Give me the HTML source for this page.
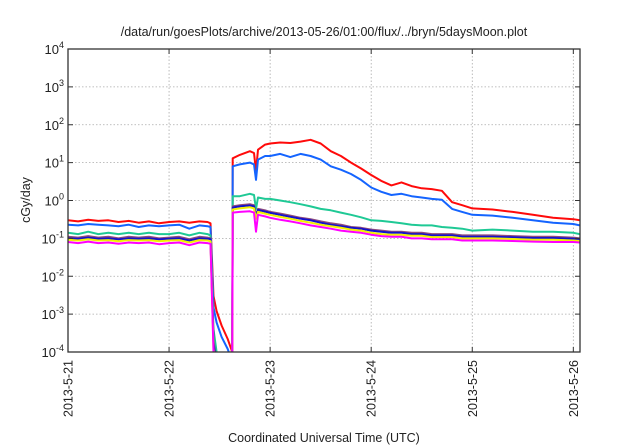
<!DOCTYPE html>
<html><head><meta charset="utf-8"><style>
body{margin:0;background:#fff;}
svg{display:block;font-family:"Liberation Sans",sans-serif;}
</style></head><body>
<svg id="chart" width="640" height="448" viewBox="0 0 640 448" xmlns="http://www.w3.org/2000/svg">
<defs><clipPath id="clip"><rect x="68" y="49" width="512" height="303"/></clipPath></defs>
<text x="324" y="36" font-size="12.5" text-anchor="middle" fill="#222">/data/run/goesPlots/archive/2013-05-26/01:00/flux/../bryn/5daysMoon.plot</text>
<g id="grid"></g>
<g id="series" clip-path="url(#clip)"></g>
<rect x="68" y="49" width="512" height="303" fill="none" stroke="#333" stroke-width="1.3"/>
<g id="axes"></g>
<text transform="translate(30,200) rotate(-90)" font-size="12.5" text-anchor="middle" fill="#222">cGy/day</text>
<text x="324" y="442" font-size="12.5" text-anchor="middle" fill="#222">Coordinated Universal Time (UTC)</text>
</svg>
<script>
const times=[0,0.1,0.2,0.3,0.4,0.5,0.6,0.7,0.8,0.9,1.0,1.1,1.2,1.3,1.38,1.41,1.44,1.47,1.52,1.58,1.62,1.625,1.63,1.7,1.8,1.84,1.86,1.88,1.95,2.0,2.1,2.2,2.3,2.4,2.5,2.6,2.7,2.8,2.9,3.0,3.1,3.2,3.3,3.4,3.5,3.6,3.7,3.8,3.9,4.0,4.2,4.4,4.6,4.8,5.0,5.066];
const redVals=[0.30,0.28,0.31,0.29,0.30,0.27,0.29,0.26,0.28,0.25,0.27,0.28,0.26,0.28,0.27,0.25,3e-3,1.2e-3,5e-4,2.2e-4,1.1e-4,3e-5,13,16,20,18,6,22,30,32,34,33,36,40,32,20,15,10,7,4.7,3.3,2.5,3.0,2.4,2.1,2.0,1.8,0.9,0.75,0.62,0.58,0.5,0.42,0.35,0.32,0.3];
const blueVals=[0.23,0.22,0.24,0.23,0.22,0.21,0.23,0.20,0.22,0.21,0.22,0.23,0.18,0.22,0.21,0.20,1.5e-3,6e-4,2.5e-4,1.2e-4,6e-5,2e-5,8,9,10,9,3.5,12,15,15,17,14,17,15,12,8,6.5,5,3.5,2.2,1.7,1.4,1.5,1.3,1.2,1.1,1.05,0.6,0.5,0.42,0.4,0.35,0.3,0.26,0.24,0.22];
const greenVals=[0.14,0.13,0.15,0.13,0.14,0.13,0.14,0.13,0.14,0.13,0.13,0.14,0.12,0.14,0.13,0.12,4e-4,1e-4,3e-5,1e-5,1e-5,1e-5,1.3,1.3,1.5,1.4,0.6,1.2,1.1,1.1,1.0,0.9,0.8,0.7,0.6,0.55,0.48,0.42,0.36,0.3,0.29,0.27,0.25,0.23,0.22,0.22,0.2,0.19,0.18,0.16,0.17,0.16,0.15,0.15,0.14,0.13];
const purpleVals=[0.11,0.105,0.115,0.105,0.11,0.10,0.11,0.105,0.11,0.10,0.105,0.11,0.095,0.11,0.105,0.10,2e-4,5e-5,1e-5,1e-5,1e-5,1e-5,0.7,0.75,0.8,0.75,0.4,0.6,0.55,0.5,0.45,0.4,0.35,0.32,0.28,0.25,0.23,0.2,0.19,0.17,0.16,0.15,0.15,0.14,0.14,0.13,0.13,0.13,0.12,0.12,0.12,0.115,0.11,0.11,0.105,0.1];
const darkBlueVals=[0.10,0.098,0.105,0.098,0.10,0.094,0.10,0.098,0.10,0.094,0.098,0.10,0.088,0.10,0.098,0.094,1.8e-4,4e-5,1e-5,1e-5,1e-5,1e-5,0.65,0.7,0.74,0.7,0.37,0.56,0.51,0.47,0.42,0.37,0.33,0.3,0.26,0.23,0.21,0.19,0.18,0.16,0.15,0.14,0.14,0.13,0.13,0.12,0.12,0.12,0.11,0.11,0.11,0.107,0.102,0.102,0.098,0.094];
const yellowVals=[0.092,0.088,0.095,0.088,0.09,0.084,0.09,0.088,0.09,0.084,0.088,0.09,0.078,0.09,0.088,0.084,1.2e-4,3e-5,1e-5,1e-5,1e-5,1e-5,0.58,0.62,0.66,0.62,0.33,0.5,0.45,0.42,0.37,0.33,0.29,0.26,0.23,0.21,0.19,0.17,0.16,0.14,0.13,0.125,0.125,0.117,0.117,0.108,0.108,0.108,0.1,0.1,0.1,0.096,0.092,0.092,0.088,0.085];
const magentaVals=[0.08,0.075,0.082,0.075,0.078,0.072,0.078,0.075,0.078,0.07,0.075,0.078,0.066,0.078,0.075,0.072,1e-4,2e-5,1e-5,1e-5,1e-5,1e-5,0.48,0.5,0.52,0.48,0.15,0.42,0.38,0.35,0.31,0.28,0.25,0.22,0.2,0.18,0.16,0.15,0.14,0.125,0.115,0.11,0.11,0.1,0.1,0.095,0.095,0.095,0.088,0.088,0.088,0.085,0.082,0.08,0.08,0.078];
const yTickExps=[4,3,2,1,0,-1,-2,-3,-4];
const xTickDays=[0,1,2,3,4,5];
const xTickLabels=["2013-5-21","2013-5-22","2013-5-23","2013-5-24","2013-5-25","2013-5-26"];
const seriesList=[
 {name:"red",vals:redVals,color:"#ff0a0a"},
 {name:"blue",vals:blueVals,color:"#1464ff"},
 {name:"green",vals:greenVals,color:"#1fc995"},
 {name:"purple",vals:purpleVals,color:"#8e4a7e"},
 {name:"dark-blue",vals:darkBlueVals,color:"#1212cc"},
 {name:"yellow",vals:yellowVals,color:"#f2f000"},
 {name:"magenta",vals:magentaVals,color:"#ff00ff"}];
const X0=68,X1=580,Y0=49,Y1=352,DAYSPAN=5.066;
function xs(d){return X0+d/DAYSPAN*(X1-X0);}
function ys(v){return Y0+(4-Math.log10(v))/8*(Y1-Y0);}
const NS="http://www.w3.org/2000/svg";
function mk(tag,attrs,parent){const e=document.createElementNS(NS,tag);for(const k in attrs)e.setAttribute(k,attrs[k]);parent.appendChild(e);return e;}
const grid=document.getElementById('grid'),axes=document.getElementById('axes'),ser=document.getElementById('series');
yTickExps.forEach(function(ex){
  const y=ys(Math.pow(10,ex));
  if(ex<4&&ex>-4){const g=mk('line',{x1:X0,x2:X1,y1:y,y2:y,stroke:'#aaa','stroke-width':0.8,'stroke-dasharray':'1.5,2'},grid);
  
  }
  const t1=mk('line',{x1:X0,x2:X0+5,y1:y,y2:y,stroke:'#333'},axes);
  
  
  const t2=mk('line',{x1:X1-5,x2:X1,y1:y,y2:y,stroke:'#333'},axes);
  
  
  const tx=mk('text',{x:57,y:y+5,'font-size':13,'text-anchor':'end',fill:'#222'},axes);
  
  
  tx.textContent='10';
  const sp=mk('tspan',{dy:-6,'font-size':9},tx);sp.textContent=String(ex);
  tx.setAttribute('x',String(ex).length>1?53:57);
  tx.setAttribute('text-anchor','end');
  sp.setAttribute('x',null);
});
// adjust: anchor whole text end at 64
axes.querySelectorAll('text').forEach(function(t){t.setAttribute('x',64);});
xTickDays.forEach(function(d,i){
  const x=xs(d);
  if(d>0){const g=mk('line',{x1:x,x2:x,y1:Y0,y2:Y1,stroke:'#aaa','stroke-width':0.8,'stroke-dasharray':'1.5,2'},grid);
  
  }
  const t1=mk('line',{x1:x,x2:x,y1:Y1-5,y2:Y1,stroke:'#333'},axes);
  
  
  const t2=mk('line',{x1:x,x2:x,y1:Y0,y2:Y0+5,stroke:'#333'},axes);
  
  
  const tx=mk('text',{transform:'translate('+(x+4.5)+','+(Y1+8)+') rotate(-90)','font-size':12.5,'text-anchor':'end',fill:'#222'},axes);
  
  
  tx.textContent=xTickLabels[i];
});
seriesList.forEach(function(s){
  let d='';
  times.forEach(function(t,i){d+=(i?'L':'M')+xs(t).toFixed(1)+','+ys(s.vals[i]).toFixed(1);});
  const p=mk('path',{d:d,fill:'none',stroke:s.color,'stroke-width':2,'stroke-linejoin':'round'},ser);
  
  
});
</script>
</body></html>
